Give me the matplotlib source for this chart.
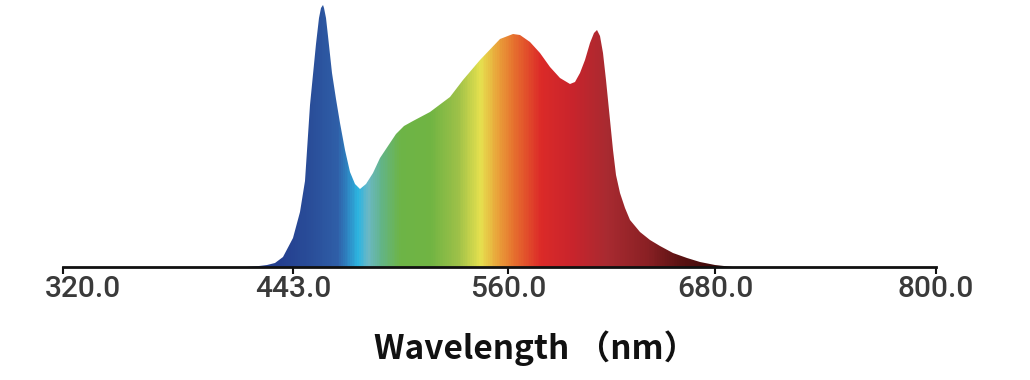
import numpy as np
import matplotlib
matplotlib.use("Agg")
import matplotlib.pyplot as plt
from matplotlib.colors import LinearSegmentedColormap, to_rgb
from matplotlib.patches import Polygon
from matplotlib.transforms import ScaledTranslation

# spectrum (nm, relative intensity)
wavelength = [418.0, 425.0, 429.1, 433.4, 437.6, 443.0, 446.8, 449.5, 452.2, 455.5,
              457.2, 458.4, 459.1, 459.8, 461.0, 462.0, 464.2, 466.3, 468.5, 471.2,
              474.0, 476.7, 479.4, 482.7, 486.5, 490.3, 495.7, 499.0, 503.5, 508.3,
              517.6, 528.4, 535.5, 544.8, 555.6, 562.9, 567.0, 572.8, 578.6, 584.3,
              590.1, 595.9, 598.8, 601.7, 604.6, 607.5, 609.8, 611.6, 613.3, 615.1,
              616.8, 618.0, 619.1, 620.9, 622.6, 624.9, 627.8, 630.7, 636.5, 642.3,
              648.1, 655.6, 663.8, 671.3, 680.0, 689.8, 700.0]
intensity = [0.0, 0.002, 0.006, 0.014, 0.038, 0.110, 0.210, 0.330, 0.620, 0.850,
             0.950, 0.990, 1.0, 0.990, 0.950, 0.880, 0.740, 0.640, 0.550, 0.447,
             0.362, 0.315, 0.298, 0.317, 0.359, 0.416, 0.473, 0.507, 0.537, 0.558,
             0.592, 0.649, 0.714, 0.790, 0.870, 0.889, 0.885, 0.857, 0.817, 0.763,
             0.721, 0.698, 0.706, 0.740, 0.790, 0.855, 0.893, 0.905, 0.882, 0.817,
             0.714, 0.637, 0.561, 0.447, 0.351, 0.282, 0.225, 0.179, 0.134, 0.103,
             0.080, 0.053, 0.034, 0.019, 0.008, 0.0, 0.0]

tick_values = [320.0, 443.0, 560.0, 680.0, 800.0]
tick_labels = ["320.0", "443.0", "560.0", "680.0", "800.0"]
# the ticks in the picture are not evenly spaced; where each one sits
tick_spots = [0.0, 230.0, 445.0, 652.0, 873.0]

# colour of the fill along the spectrum
color_nm = [436.1, 453.7, 466.9, 477.8, 483.2, 490.3, 501.2, 517.6, 532.3, 544.8,
            554.0, 562.9, 578.6, 597.7, 617.4, 640.6, 659.9, 682.7]
color_hex = ["#243f8f", "#2a4f9a", "#2f5fa8", "#2db4e0", "#6bb8c4", "#62b48a",
             "#6db446", "#70b443", "#9cc048", "#e6e04e", "#e9a23a", "#e6702e",
             "#dc2a28", "#c8242c", "#a82a30", "#8a2024", "#5a1212", "#3a0808"]


def fwd(v):
    return np.interp(v, tick_values, tick_spots)


def inv(v):
    return np.interp(v, tick_spots, tick_values)


fig = plt.figure(figsize=(10.3, 3.8), dpi=100)
ax = fig.add_axes([63 / 1030, 113 / 380, 873 / 1030, 262 / 380])
ax.set_xscale("function", functions=(fwd, inv))
ax.set_xlim(320, 800)
ax.set_ylim(0, 1.0)

# gradient fill clipped to the spectrum shape
lo, hi = color_nm[0], color_nm[-1]
cmap = LinearSegmentedColormap.from_list(
    "spec", [((c - lo) / (hi - lo), to_rgb(h)) for c, h in zip(color_nm, color_hex)])
xs = np.linspace(415, 705, 600)
mesh = ax.pcolormesh(xs, [0, 1.0], np.clip((xs[:-1] - lo) / (hi - lo), 0, 1)[None, :],
                     cmap=cmap, vmin=0, vmax=1, shading="flat", rasterized=True)
verts = np.column_stack([wavelength + [wavelength[-1], wavelength[0]],
                         intensity + [0.0, 0.0]])
poly = Polygon(verts, closed=True, transform=ax.transData, facecolor="none", edgecolor="none")
ax.add_patch(poly)
mesh.set_clip_path(poly)

for s in ["top", "right", "left"]:
    ax.spines[s].set_visible(False)
ax.spines["bottom"].set_linewidth(2.0)
ax.spines["bottom"].set_color("#111111")
ax.set_yticks([])
ax.set_xticks(tick_values)
ax.set_xticklabels(tick_labels, family="Roboto", fontweight="medium")
ax.tick_params(axis="x", direction="out", length=5, width=1.5, color="#111111",
               labelsize=21.5, labelcolor="#3a3a3a", pad=1)
ax.minorticks_off()

# first label sits to the right of its tick in the picture
first = ax.get_xticklabels()[0]
first.set_transform(first.get_transform() + ScaledTranslation(0.2, 0, fig.dpi_scale_trans))

fig.text(536 / 1030, 32 / 380, "Wavelength （nm）", ha="center", va="center",
         fontsize=24, fontweight="bold", color="#111111",
         family=["Noto Sans CJK SC", "DejaVu Sans"])

fig.savefig("out.png", dpi=100)
